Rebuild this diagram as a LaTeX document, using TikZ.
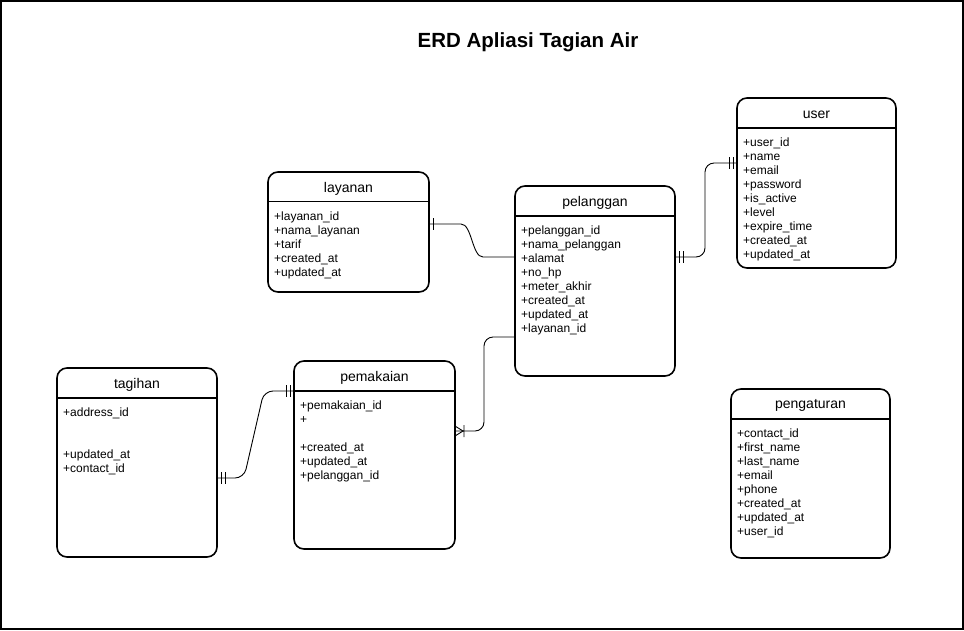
\documentclass[tikz,border=0pt]{standalone}
\usepackage{fontspec}
\setmainfont{Liberation Sans}
\usetikzlibrary{positioning}

\begin{document}
\begin{tikzpicture}[x=1pt,y=-1pt,
    entity/.style={draw,line width=1.6pt,rounded corners=10pt,anchor=north west,
                   minimum width=160pt,inner sep=0pt,outer sep=0pt},
    ehead/.style={font=\fontsize{14}{16}\selectfont,inner sep=0pt},
    erows/.style={font=\fontsize{12}{14}\selectfont,align=left,inner sep=0pt},
    sepline/.style={line width=1.3pt},
    rel/.style={line width=0.9pt,rounded corners=9pt},
    erone/.pic={\draw [line width=0.9pt] (4,-6) -- (4,6) ;},
    ermand/.pic={\draw [line width=0.9pt] (4,-6) -- (4,6) (8,-6) -- (8,6) ;},
    ermany/.pic={\draw [line width=0.9pt] (0,-5) -- (8,0) -- (0,5) (9,-6) -- (9,6) ;}]
%
  \useasboundingbox (0,0) rectangle (964,630) ;
  \draw [line width=1.5pt] (1,1) rectangle (963,629) ;
%
  \node [font=\fontsize{20.5}{24}\selectfont\bfseries] (title) at (528,42) {ERD Apliasi Tagian Air} ;
%
  \node [entity,minimum width=161pt,minimum height=120pt] (layanan) at (268,172) {} ;
  \node [ehead] (layanan-t) at ([yshift=-16.5pt]layanan.north) {layanan} ;
  \draw [sepline] ([yshift=-29.5pt]layanan.north west) -- ([yshift=-29.5pt]layanan.north east) ;
  \node [erows,below right=40pt and 6pt of layanan.north west] (layanan-r)
    {+layanan\_id\\+nama\_layanan\\+tarif\\+created\_at\\+updated\_at} ;
%
  \node [entity,minimum height=190pt] (pelanggan) at (515,186) {} ;
  \node [ehead] (pelanggan-t) at ([yshift=-16.5pt]pelanggan.north) {pelanggan} ;
  \draw [sepline] ([yshift=-30pt]pelanggan.north west) -- ([yshift=-30pt]pelanggan.north east) ;
  \node [erows,below right=40pt and 6pt of pelanggan.north west] (pelanggan-r)
    {+pelanggan\_id\\+nama\_pelanggan\\+alamat\\+no\_hp\\+meter\_akhir\\+created\_at\\+updated\_at\\+layanan\_id} ;
%
  \node [entity,minimum width=159pt,minimum height=170pt] (user) at (737,98) {} ;
  \node [ehead] (user-t) at ([yshift=-16.5pt]user.north) {user} ;
  \draw [sepline] ([yshift=-30pt]user.north west) -- ([yshift=-30pt]user.north east) ;
  \node [erows,below right=40pt and 6pt of user.north west] (user-r)
    {+user\_id\\+name\\+email\\+password\\+is\_active\\+level\\+expire\_time\\+created\_at\\+updated\_at} ;
%
  \node [entity,minimum height=189pt] (tagihan) at (57,368) {} ;
  \node [ehead] (tagihan-t) at ([yshift=-16.5pt]tagihan.north) {tagihan} ;
  \draw [sepline] ([yshift=-30pt]tagihan.north west) -- ([yshift=-30pt]tagihan.north east) ;
  \node [erows,below right=40pt and 6pt of tagihan.north west] (tagihan-r)
    {+address\_id\\\mbox{}\\\mbox{}\\+updated\_at\\+contact\_id} ;
%
  \node [entity,minimum width=161pt,minimum height=188pt] (pemakaian) at (294,361) {} ;
  \node [ehead] (pemakaian-t) at ([yshift=-16.5pt]pemakaian.north) {pemakaian} ;
  \draw [sepline] ([yshift=-30pt]pemakaian.north west) -- ([yshift=-30pt]pemakaian.north east) ;
  \node [erows,below right=40pt and 6pt of pemakaian.north west] (pemakaian-r)
    {+pemakaian\_id\\+\\\mbox{}\\+created\_at\\+updated\_at\\+pelanggan\_id} ;
%
  \node [entity,minimum width=159pt,minimum height=169pt] (pengaturan) at (731,389) {} ;
  \node [ehead] (pengaturan-t) at ([yshift=-16.5pt]pengaturan.north) {pengaturan} ;
  \draw [sepline] ([yshift=-30pt]pengaturan.north west) -- ([yshift=-30pt]pengaturan.north east) ;
  \node [erows,below right=40pt and 6pt of pengaturan.north west] (pengaturan-r)
    {+contact\_id\\+first\_name\\+last\_name\\+email\\+phone\\+created\_at\\+updated\_at\\+user\_id} ;
%
  \coordinate (lay-o) at (layanan.east |- 0,224) ;
  \coordinate (pel-a) at (pelanggan.west |- 0,257) ;
  \coordinate (pel-b) at (pelanggan.east |- 0,257) ;
  \coordinate (pel-c) at (pelanggan.west |- 0,337) ;
  \coordinate (usr-a) at (user.west |- 0,163) ;
  \coordinate (pem-a) at (pemakaian.west |- 0,391) ;
  \coordinate (pem-b) at (pemakaian.east |- 0,431) ;
  \coordinate (tag-o) at (tagihan.east |- 0,478) ;
%
  \draw [rel] (lay-o) -- (452,224) .. controls (472,224) and (472,257) .. (492,257) -- (pel-a) ;
  \draw [rel] (pel-b) -- (705,257) -- (705,163) -- (usr-a) ;
  \draw [rel] (pel-c) -- (484,337) -- (484,431) -- (pem-b) ;
  \draw [rel] (tag-o) -- (244,478) -- (264,391) -- (pem-a) ;
%
  \pic at (lay-o) {erone} ;
  \pic at (pel-b) {ermand} ;
  \pic [xscale=-1] at (usr-a) {ermand} ;
  \pic at (pem-b) {ermany} ;
  \pic at (tag-o) {ermand} ;
  \pic [xscale=-1] at (pem-a) {ermand} ;
\end{tikzpicture}
\end{document}
